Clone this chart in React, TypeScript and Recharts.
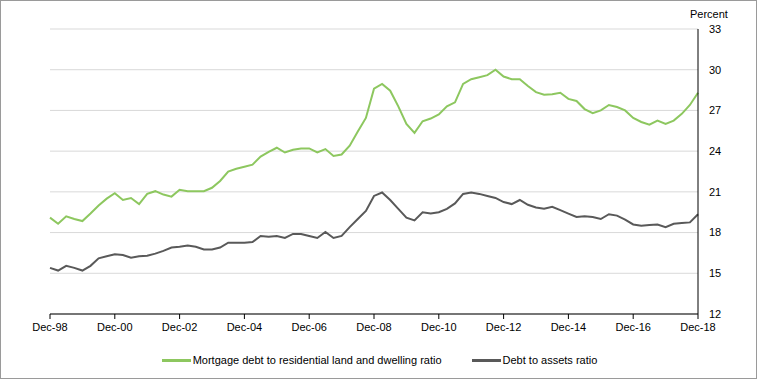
import React from 'react';
import { LineChart, Line, XAxis, YAxis, CartesianGrid } from 'recharts';

// quarterly, Dec-98 .. Dec-18
const quarters = [
  'Dec-98',
  'Mar-99', 'Jun-99', 'Sep-99', 'Dec-99',
  'Mar-00', 'Jun-00', 'Sep-00', 'Dec-00',
  'Mar-01', 'Jun-01', 'Sep-01', 'Dec-01',
  'Mar-02', 'Jun-02', 'Sep-02', 'Dec-02',
  'Mar-03', 'Jun-03', 'Sep-03', 'Dec-03',
  'Mar-04', 'Jun-04', 'Sep-04', 'Dec-04',
  'Mar-05', 'Jun-05', 'Sep-05', 'Dec-05',
  'Mar-06', 'Jun-06', 'Sep-06', 'Dec-06',
  'Mar-07', 'Jun-07', 'Sep-07', 'Dec-07',
  'Mar-08', 'Jun-08', 'Sep-08', 'Dec-08',
  'Mar-09', 'Jun-09', 'Sep-09', 'Dec-09',
  'Mar-10', 'Jun-10', 'Sep-10', 'Dec-10',
  'Mar-11', 'Jun-11', 'Sep-11', 'Dec-11',
  'Mar-12', 'Jun-12', 'Sep-12', 'Dec-12',
  'Mar-13', 'Jun-13', 'Sep-13', 'Dec-13',
  'Mar-14', 'Jun-14', 'Sep-14', 'Dec-14',
  'Mar-15', 'Jun-15', 'Sep-15', 'Dec-15',
  'Mar-16', 'Jun-16', 'Sep-16', 'Dec-16',
  'Mar-17', 'Jun-17', 'Sep-17', 'Dec-17',
  'Mar-18', 'Jun-18', 'Sep-18', 'Dec-18',
];

const mortgageRatio = [
  19.1,
  18.65, 19.2, 19.0, 18.85,
  19.4, 20.0, 20.5, 20.9,
  20.4, 20.55, 20.1, 20.85,
  21.05, 20.8, 20.65, 21.15,
  21.05, 21.05, 21.05, 21.3,
  21.8, 22.5, 22.7, 22.85,
  23.0, 23.6, 23.95, 24.25,
  23.9, 24.1, 24.2, 24.2,
  23.9, 24.15, 23.65, 23.75,
  24.4, 25.45, 26.45, 28.6,
  28.95, 28.45, 27.3, 26.0,
  25.35, 26.2, 26.4, 26.7,
  27.3, 27.6, 28.95, 29.3,
  29.45, 29.6, 30.0, 29.5,
  29.3, 29.3, 28.8, 28.35,
  28.15, 28.2, 28.3, 27.85,
  27.7, 27.1, 26.8, 27.0,
  27.4, 27.25, 27.0, 26.45,
  26.15, 25.95, 26.25, 26.0,
  26.25, 26.75, 27.4, 28.3,
];

const debtToAssets = [
  15.4,
  15.2, 15.55, 15.4, 15.2,
  15.55, 16.1, 16.25, 16.4,
  16.35, 16.15, 16.25, 16.3,
  16.45, 16.65, 16.9, 16.95,
  17.05, 16.95, 16.75, 16.75,
  16.9, 17.25, 17.25, 17.25,
  17.3, 17.75, 17.7, 17.75,
  17.6, 17.9, 17.9, 17.75,
  17.6, 18.05, 17.6, 17.75,
  18.4, 19.0, 19.6, 20.7,
  20.95, 20.4, 19.75, 19.1,
  18.9, 19.5, 19.4, 19.5,
  19.75, 20.15, 20.85, 20.95,
  20.85, 20.7, 20.55, 20.25,
  20.1, 20.4, 20.05, 19.85,
  19.75, 19.9, 19.65, 19.4,
  19.15, 19.2, 19.15, 19.0,
  19.35, 19.25, 18.95, 18.6,
  18.5, 18.55, 18.6, 18.4,
  18.65, 18.7, 18.75, 19.35,
];

const xTicks = ['Dec-98', 'Dec-00', 'Dec-02', 'Dec-04', 'Dec-06', 'Dec-08', 'Dec-10', 'Dec-12', 'Dec-14', 'Dec-16', 'Dec-18'];
const yTicks = [12, 15, 18, 21, 24, 27, 30, 33];

const GREEN = '#8dc75f';
const GREY = '#595959';
const FONT = '"Liberation Sans", Arial, sans-serif';

const data = quarters.map((q, i) => ({
  q,
  mortgage: mortgageRatio[i],
  debt: debtToAssets[i],
}));

const LegendItem = ({ color, label }: { color: string; label: string }) => (
  <div style={{ display: 'flex', alignItems: 'center' }}>
    <div style={{ width: 29, height: 3, background: color, marginRight: 2 }} />
    <span>{label}</span>
  </div>
);

export default function App() {
  return (
    <div
      style={{
        position: 'absolute', left: 0, top: 0, width: 757, height: 379,
        boxSizing: 'border-box', border: '1px solid #9a9a9a', background: '#fff',
        fontFamily: FONT, overflow: 'hidden',
      }}
    >
      <div style={{ position: 'absolute', left: -1, top: -1 }}>
        <LineChart width={757} height={379} data={data} margin={{ top: 29, right: 9, left: 50, bottom: 35 }}>
          <CartesianGrid vertical={false} stroke="#d9d9d9" strokeWidth={1} />
          <XAxis
            dataKey="q"
            ticks={xTicks}
            interval={0}
            height={30}
            tickSize={5}
            tickMargin={4}
            axisLine={{ stroke: '#000' }}
            tickLine={{ stroke: '#000' }}
            tick={{ fontSize: 11, fill: '#000', fontFamily: FONT }}
          />
          <YAxis
            orientation="right"
            domain={[12, 33]}
            ticks={yTicks}
            interval={0}
            width={50}
            tickLine={false}
            tickSize={9}
            tickMargin={2}
            axisLine={{ stroke: '#000' }}
            tick={{ fontSize: 11, fill: '#000', fontFamily: FONT, textAnchor: 'start' }}
          />
          <Line type="linear" dataKey="mortgage" stroke={GREEN} strokeWidth={2} dot={false} isAnimationActive={false} />
          <Line type="linear" dataKey="debt" stroke={GREY} strokeWidth={2} dot={false} isAnimationActive={false} />
        </LineChart>
      </div>
      <div style={{ position: 'absolute', left: 689, top: 7, fontSize: 11, color: '#000' }}>Percent</div>
      <div
        style={{
          position: 'absolute', left: 0, width: 757, top: 353, display: 'flex',
          justifyContent: 'center', gap: 30, fontSize: 11, color: '#000',
        }}
      >
        <LegendItem color={GREEN} label="Mortgage debt to residential land and dwelling ratio" />
        <LegendItem color={GREY} label="Debt to assets ratio" />
      </div>
    </div>
  );
}
